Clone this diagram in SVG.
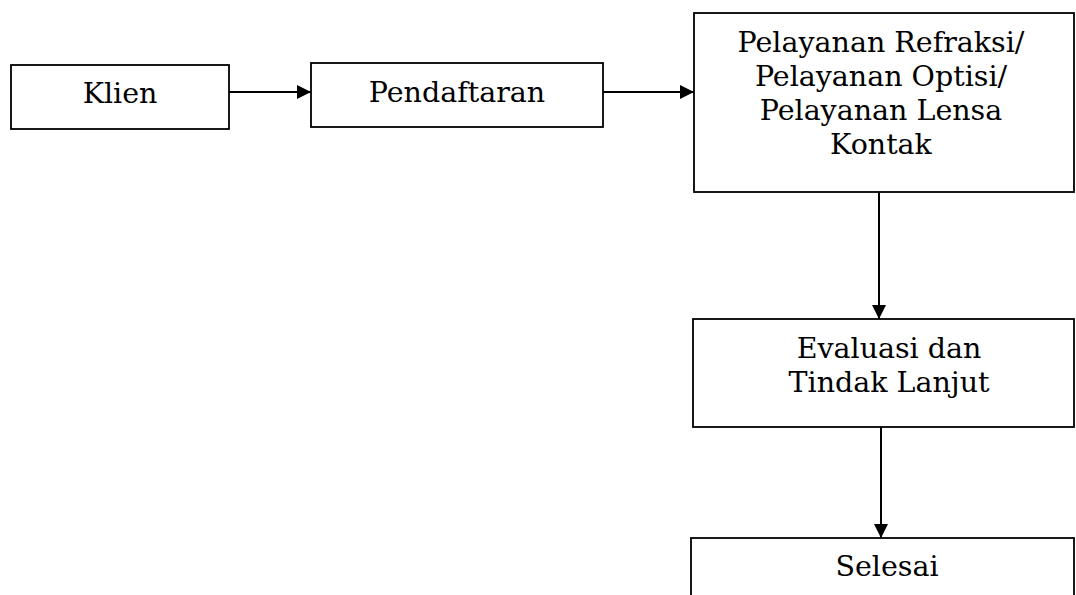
<svg xmlns="http://www.w3.org/2000/svg" width="1076" height="595" viewBox="0 0 1076 595">
<style>
.box{fill:#fff;stroke:#000;stroke-width:1.8}
.lbl{font-family:"DejaVu Serif","Liberation Serif",serif;font-size:28.5px;fill:#000;text-anchor:middle}
.con{stroke:#000;stroke-width:2;fill:none}
</style>
<defs>
<marker id="ah" viewBox="0 0 10 10" refX="10" refY="5" markerWidth="14" markerHeight="14" orient="auto" markerUnits="userSpaceOnUse">
<path d="M0,0 L10,5 L0,10 Z" fill="#000"/>
</marker>
</defs>
<rect width="1076" height="595" fill="#fff"/>
<g id="connectors">
<line class="con" x1="229" y1="92" x2="311" y2="92" marker-end="url(#ah)"/>
<line class="con" x1="603" y1="92" x2="694" y2="92" marker-end="url(#ah)"/>
<line class="con" x1="879" y1="192" x2="879" y2="319" marker-end="url(#ah)"/>
<line class="con" x1="881" y1="427" x2="881" y2="538" marker-end="url(#ah)"/>
</g>
<g id="klien">
<rect class="box" x="11" y="65" width="218" height="64"/>
<text class="lbl" x="120" y="103">Klien</text>
</g>
<g id="pendaftaran">
<rect class="box" x="311" y="63" width="292" height="64"/>
<text class="lbl" x="457" y="102">Pendaftaran</text>
</g>
<g id="pelayanan">
<rect class="box" x="694" y="13" width="380" height="179"/>
<text class="lbl" x="881" y="52">Pelayanan Refraksi/</text>
<text class="lbl" x="881" y="86">Pelayanan Optisi/</text>
<text class="lbl" x="881" y="120">Pelayanan Lensa</text>
<text class="lbl" x="881" y="154">Kontak</text>
</g>
<g id="evaluasi">
<rect class="box" x="693" y="319" width="381" height="108"/>
<text class="lbl" x="889" y="358">Evaluasi dan</text>
<text class="lbl" x="889" y="392">Tindak Lanjut</text>
</g>
<g id="selesai">
<rect class="box" x="691" y="538" width="383" height="80"/>
<text class="lbl" x="887" y="576">Selesai</text>
</g>
</svg>
